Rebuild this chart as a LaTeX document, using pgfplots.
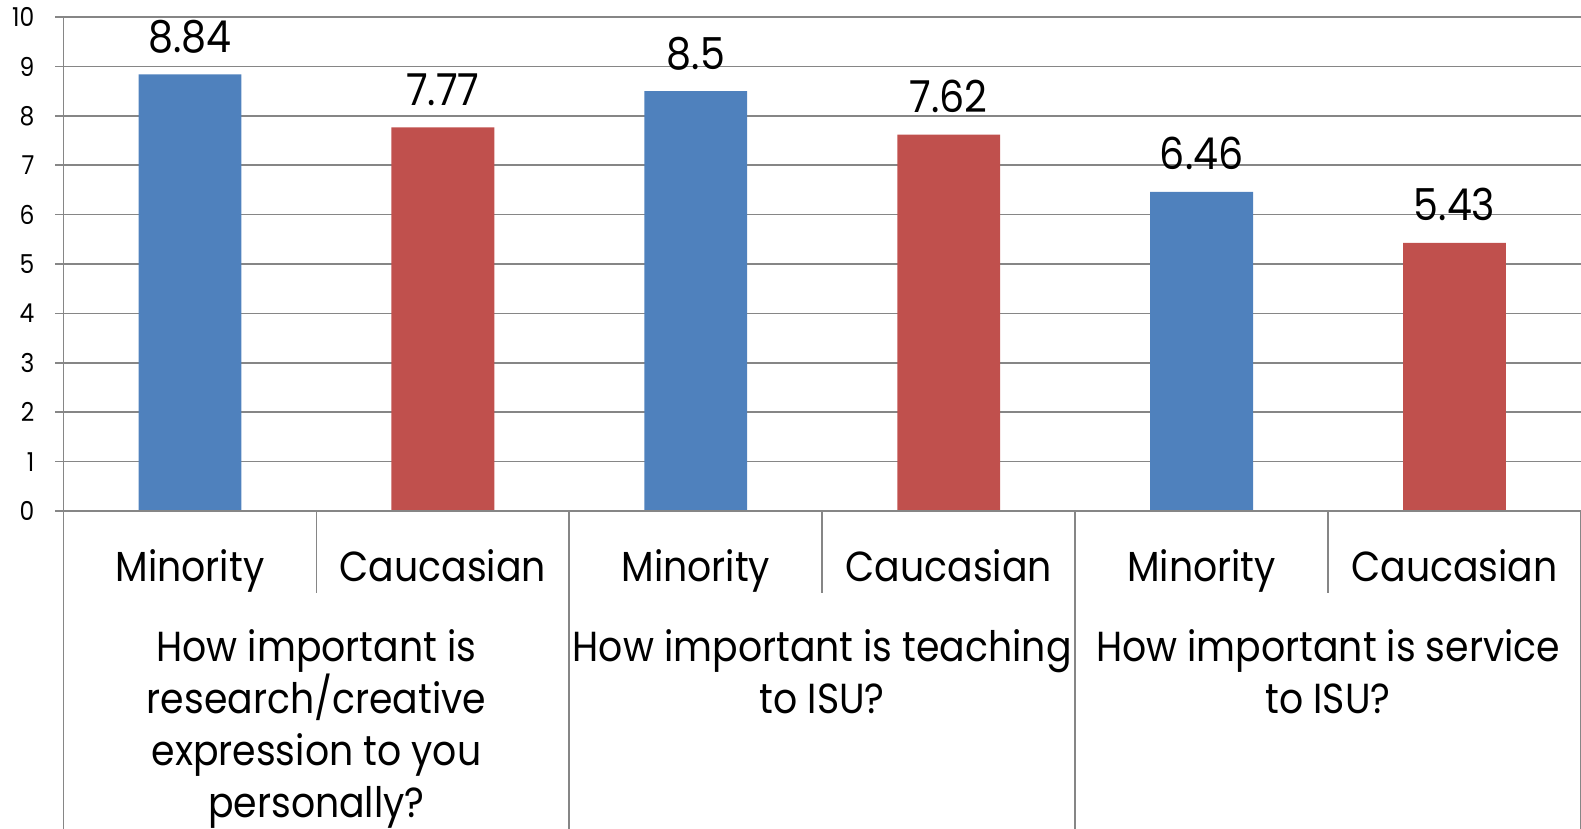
\documentclass[border=0pt]{standalone}
\usepackage{pgfplots}
\pgfplotsset{compat=1.18}
\usepackage{fontspec}
\setmainfont{Poppins}[FakeStretch=0.9]
\definecolor{barblue}{HTML}{4F81BD}
\definecolor{barred}{HTML}{C0504D}
\definecolor{gridgray}{HTML}{868686}
\newcommand{\lblfont}{\fontsize{21}{25}\selectfont}
\begin{document}
\begin{tikzpicture}
\useasboundingbox (-31.75pt,-158.9pt) rectangle (758.75pt,255.55pt);
\clip (-31.75pt,-158.9pt) rectangle (758.75pt,255.55pt);
\begin{axis}[
  at={(0pt,0pt)}, anchor=south west,
  scale only axis, width=758.75pt, height=247pt,
  xmin=-0.5, xmax=5.5, ymin=0, ymax=10,
  ytick={0,...,10}, xtick=\empty, ytick pos=left,
  ymajorgrids, grid style={gridgray, line width=0.8pt},
  axis line style={draw=none},
  major tick style={gridgray, line width=0.8pt},
  tick align=outside, major tick length=4pt,
  yticklabel style={font=\fontsize{13}{15}\selectfont, text=black, xshift=-7pt},
  /pgf/number format/assume math mode=true,
  clip=false,
  ybar, bar width=51.4pt,
  nodes near coords,
  nodes near coords style={font=\fontsize{22}{26}\selectfont, text=black, anchor=base, yshift=11pt},
]
% Minority
\addplot[fill=barblue, draw=none, bar shift=0pt] coordinates {(0,8.84) (2,8.5) (4,6.46)};
% Caucasian
\addplot[fill=barred, draw=none, bar shift=0pt] coordinates {(1,7.77) (3,7.62) (5,5.43)};

% axis lines and category separators
\draw[gridgray, line width=0.9pt] (axis cs:-0.5,10) -- (axis cs:-0.5,-7);
\draw[gridgray, line width=0.9pt] (axis cs:-0.5,0) -- (axis cs:5.5,0);
\draw[gridgray, line width=0.9pt] (axis cs:0.5,0) -- (axis cs:0.5,-1.656);
\draw[gridgray, line width=0.9pt] (axis cs:2.5,0) -- (axis cs:2.5,-1.656);
\draw[gridgray, line width=0.9pt] (axis cs:4.5,0) -- (axis cs:4.5,-1.656);
\draw[gridgray, line width=0.9pt] (axis cs:1.5,0) -- (axis cs:1.5,-7);
\draw[gridgray, line width=0.9pt] (axis cs:3.5,0) -- (axis cs:3.5,-7);
\draw[gridgray, line width=0.9pt] (axis cs:5.5,0) -- (axis cs:5.5,-7);

% category labels
\node[font=\lblfont, anchor=base] at (axis cs:0,-1.42) {Minority};
\node[font=\lblfont, anchor=base] at (axis cs:1,-1.42) {Caucasian};
\node[font=\lblfont, anchor=base] at (axis cs:2,-1.42) {Minority};
\node[font=\lblfont, anchor=base] at (axis cs:3,-1.42) {Caucasian};
\node[font=\lblfont, anchor=base] at (axis cs:4,-1.42) {Minority};
\node[font=\lblfont, anchor=base] at (axis cs:5,-1.42) {Caucasian};

% group labels
\node[font=\lblfont, anchor=base] at (axis cs:0.5,-3.053) {How important is};
\node[font=\lblfont, anchor=base] at (axis cs:0.5,-4.105) {research/creative};
\node[font=\lblfont, anchor=base] at (axis cs:0.5,-5.158) {expression to you};
\node[font=\lblfont, anchor=base] at (axis cs:0.5,-6.21) {personally?};
\node[font=\lblfont, anchor=base] at (axis cs:2.5,-3.053) {How important is teaching};
\node[font=\lblfont, anchor=base] at (axis cs:2.5,-4.105) {to ISU?};
\node[font=\lblfont, anchor=base] at (axis cs:4.5,-3.053) {How important is service};
\node[font=\lblfont, anchor=base] at (axis cs:4.5,-4.105) {to ISU?};
\end{axis}
\end{tikzpicture}
\end{document}
